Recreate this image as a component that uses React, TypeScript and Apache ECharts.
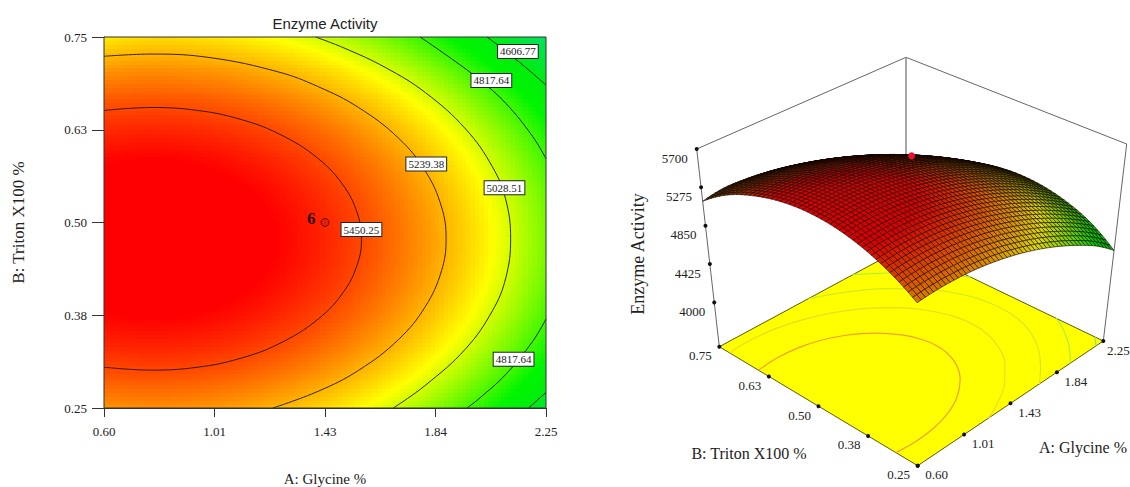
import React, { useEffect, useRef } from "react";
import * as echarts from "echarts";

const TITLE = "Enzyme Activity";
const X_NAME = "A: Glycine %";
const Y_NAME = "B: Triton X100 %";
const SERIF = "'Liberation Serif', 'Times New Roman', serif";
const SANS = "'Liberation Sans', Arial, sans-serif";

const xTicks = [0.6, 1.0125, 1.425, 1.8375, 2.25];
const xTickLabels = ["0.60", "1.01", "1.43", "1.84", "2.25"];
const yTicks = [0.25, 0.375, 0.5, 0.625, 0.75];
const yTickLabels = ["0.25", "0.38", "0.50", "0.63", "0.75"];
const zTicks = [5700, 5275, 4850, 4425, 4000];
const zTickLabels = ["5700", "5275", "4850", "4425", "4000"];

// Estimated response
const glycineLevels = [0.6, 0.765, 0.93, 1.095, 1.26, 1.425, 1.59, 1.755, 1.92, 2.085, 2.25];
const tritonLevels = [0.25, 0.3125, 0.375, 0.4375, 0.5, 0.5625, 0.625, 0.6875, 0.75];
const activity = [
  [5297, 5308, 5300, 5273, 5226, 5160, 5075, 4970, 4846, 4702, 4515],
  [5467, 5478, 5470, 5443, 5396, 5330, 5244, 5140, 5015, 4872, 4709],
  [5582, 5594, 5586, 5559, 5512, 5446, 5360, 5255, 5131, 4988, 4825],
  [5644, 5656, 5648, 5620, 5574, 5508, 5422, 5317, 5193, 5049, 4886],
  [5652, 5664, 5656, 5628, 5582, 5516, 5430, 5325, 5201, 5057, 4894],
  [5606, 5618, 5610, 5582, 5536, 5470, 5384, 5279, 5155, 5011, 4848],
  [5506, 5518, 5510, 5483, 5436, 5370, 5284, 5180, 5055, 4912, 4749],
  [5353, 5364, 5356, 5329, 5282, 5216, 5130, 5026, 4901, 4758, 4595],
  [5120, 5157, 5149, 5121, 5075, 5008, 4923, 4818, 4694, 4551, 4387],
];

// Contour lines, [glycine, triton]
const contour5450 = [[0.6, 0.651], [0.78, 0.655], [0.95, 0.651], [1.1, 0.64], [1.25, 0.62], [1.4, 0.586], [1.5, 0.5465], [1.55, 0.5075], [1.561, 0.478], [1.55, 0.4485], [1.5, 0.4095], [1.4, 0.37], [1.25, 0.336], [1.1, 0.316], [0.95, 0.305], [0.78, 0.301], [0.6, 0.305]];
const contour5239 = [[0.6, 0.724], [0.78, 0.727], [1, 0.722], [1.25, 0.703], [1.4, 0.683], [1.55, 0.655], [1.7, 0.6135], [1.8, 0.569], [1.86, 0.521], [1.877, 0.478], [1.86, 0.435], [1.8, 0.387], [1.7, 0.3425], [1.55, 0.3007], [1.4, 0.2726], [1.23, 0.25]];
const contour5028 = [[1.39, 0.75], [1.5, 0.7346], [1.65, 0.709], [1.8, 0.675], [1.95, 0.626], [2.05, 0.575], [2.1, 0.5305], [2.118, 0.478], [2.1, 0.4255], [2.05, 0.381], [1.95, 0.3298], [1.8, 0.2807], [1.68, 0.25]];
const contour4817Top = [[1.78, 0.75], [1.9, 0.72], [2, 0.693], [2.1, 0.6606], [2.2, 0.616], [2.25, 0.586]];
const contour4817Bottom = [[1.955, 0.25], [2, 0.2626], [2.1, 0.2954], [2.2, 0.3397], [2.25, 0.37]];
const contour4606Top = [[2.03, 0.75], [2.1, 0.7308], [2.2, 0.701], [2.25, 0.685]];
const contour4606Bottom = [[2.185, 0.25], [2.25, 0.271]];

const contourLabels = [
  { name: "4606.77", value: [2.145, 0.7306] },
  { name: "4817.64", value: [2.046, 0.6915] },
  { name: "5239.38", value: [1.803, 0.579] },
  { name: "5028.51", value: [2.095, 0.5467] },
  { name: "5450.25", value: [1.561, 0.4905] },
  { name: "4817.64", value: [2.129, 0.3156] },
];
const designPoint = [1.425, 0.5];
const designPointLabel = "6";
const designPointActivity = 5680;

// colour ramp
const rampLevels = [4387, 4620, 4720, 5090, 5590];
const rampColors = [[0, 225, 100], [0, 238, 10], [0, 245, 0], [255, 255, 0], [255, 0, 0]];

// 3-D box corners in the plane of the right panel: [left, right, back, front]
const topCorners = [[76.7, 109], [506.7, 104], [286, 17.3], [297, 226]];
const floorCorners = [[99.3, 306.7], [483.3, 301], [286, 206], [297.7, 425.7]];
const Z_FLOOR = 3509;
const Z_TOP = 5700;

const A_MIN = 0.6, A_MAX = 2.25, B_MIN = 0.25, B_MAX = 0.75;

function colorAt(z: number, shade = 1) {
  const n = rampLevels.length;
  let c = rampColors[0];
  if (z >= rampLevels[n - 1]) c = rampColors[n - 1];
  else if (z > rampLevels[0]) {
    for (let i = 0; i < n - 1; i++) {
      if (z <= rampLevels[i + 1]) {
        const t = (z - rampLevels[i]) / (rampLevels[i + 1] - rampLevels[i]);
        c = rampColors[i].map((v, k) => v + (rampColors[i + 1][k] - v) * t);
        break;
      }
    }
  }
  return `rgb(${Math.round(c[0] * shade)},${Math.round(c[1] * shade)},${Math.round(c[2] * shade)})`;
}

function interp1(a: number[], i: number, t: number) {
  const n = a.length;
  const g = (k: number) =>
    k < 0 ? 3 * a[0] - 3 * a[1] + a[2] : k >= n ? 3 * a[n - 1] - 3 * a[n - 2] + a[n - 3] : a[k];
  const p0 = g(i - 1), p1 = g(i), p2 = g(i + 1), p3 = g(i + 2);
  return 0.5 * (2 * p1 + (p2 - p0) * t + (2 * p0 - 5 * p1 + 4 * p2 - p3) * t * t + (3 * p1 - p0 - 3 * p2 + p3) * t * t * t);
}

function sample(i: number, u: number, j: number, v: number) {
  return interp1(activity.map((r) => interp1(r, i, u)), j, v);
}

function project(a: number, b: number, z: number) {
  const u = (a - A_MIN) / (A_MAX - A_MIN);
  const v = (b - B_MIN) / (B_MAX - B_MIN);
  const w = (z - Z_FLOOR) / (Z_TOP - Z_FLOOR);
  // bilinear over corners: (u=0,v=1)=left, (1,0)=right, (1,1)=back, (0,0)=front
  const bil = (c: number[][], k: number) =>
    c[3][k] * (1 - u) * (1 - v) + c[1][k] * u * (1 - v) + c[0][k] * (1 - u) * v + c[2][k] * u * v;
  return [
    bil(floorCorners, 0) + (bil(topCorners, 0) - bil(floorCorners, 0)) * w,
    bil(floorCorners, 1) + (bil(topCorners, 1) - bil(floorCorners, 1)) * w,
  ];
}

const SUB_FIELD_A = 10, SUB_FIELD_B = 12, SUB_MESH_A = 5, SUB_MESH_B = 6;

function fieldCell(params: any, api: any) {
  const [i, j] = fieldCells[params.dataIndex];
  const dA = glycineLevels[i + 1] - glycineLevels[i];
  const dB = tritonLevels[j + 1] - tritonLevels[j];
  const children: any[] = [];
  for (let p = 0; p < SUB_FIELD_A; p++) {
    for (let q = 0; q < SUB_FIELD_B; q++) {
      const a0 = glycineLevels[i] + (dA * p) / SUB_FIELD_A;
      const a1 = a0 + dA / SUB_FIELD_A;
      const b0 = tritonLevels[j] + (dB * q) / SUB_FIELD_B;
      const b1 = b0 + dB / SUB_FIELD_B;
      const c0 = api.coord([a0, b1]);
      const c1 = api.coord([a1, b0]);
      const x = Math.floor(c0[0]), y = Math.floor(c0[1]);
      children.push({
        type: "rect",
        shape: { x, y, width: Math.ceil(c1[0]) - x, height: Math.ceil(c1[1]) - y },
        style: { fill: colorAt(sample(i, (p + 0.5) / SUB_FIELD_A, j, (q + 0.5) / SUB_FIELD_B)) },
      });
    }
  }
  return { type: "group", children };
}

function meshCell(params: any, api: any) {
  const [i, j] = meshCells[params.dataIndex];
  const dA = glycineLevels[i + 1] - glycineLevels[i];
  const dB = tritonLevels[j + 1] - tritonLevels[j];
  const pt = (p: number, q: number) => {
    const u = p / SUB_MESH_A, v = q / SUB_MESH_B;
    return api.coord(project(glycineLevels[i] + dA * u, tritonLevels[j] + dB * v, sample(i, u, j, v)));
  };
  const children: any[] = [];
  for (let q = SUB_MESH_B - 1; q >= 0; q--) {
    for (let p = SUB_MESH_A - 1; p >= 0; p--) {
      const pts = [pt(p, q), pt(p + 1, q), pt(p + 1, q + 1), pt(p, q + 1)];
      let area = 0;
      for (let k = 0; k < 4; k++) {
        const a = pts[k], b = pts[(k + 1) % 4];
        area += a[0] * b[1] - b[0] * a[1];
      }
      area = Math.abs(area) / 2;
      const shade = Math.min(0.85, 0.15 + 0.8 * Math.pow(area / 18, 0.9));
      children.push({
        type: "polygon",
        shape: { points: pts },
        style: {
          fill: colorAt(sample(i, (p + 0.5) / SUB_MESH_A, j, (q + 0.5) / SUB_MESH_B), shade),
          stroke: "#140400",
          lineWidth: 0.6,
        },
      });
    }
  }
  return { type: "group", children };
}

const fieldCells: number[][] = [];
for (let j = 0; j < tritonLevels.length - 1; j++)
  for (let i = 0; i < glycineLevels.length - 1; i++) fieldCells.push([i, j]);
const meshCells: number[][] = [];
for (let j = tritonLevels.length - 2; j >= 0; j--)
  for (let i = glycineLevels.length - 2; i >= 0; i--) meshCells.push([i, j]);

const lineOn = (data: number[][], color: string, width: number, z: number, smooth: number | boolean, panel: number) => ({
  type: "line",
  data,
  xAxisIndex: panel,
  yAxisIndex: panel,
  smooth,
  showSymbol: false,
  symbol: "none",
  silent: true,
  z,
  clip: false,
  lineStyle: { color, width },
});

const floorLine = (c: number[][], color: string) =>
  lineOn(c.map((p) => project(p[0], p[1], Z_FLOOR)), color, 1.2, 4, 0.4, 1);

export default function App() {
  const ref = useRef<HTMLDivElement>(null);
  useEffect(() => {
    const chart = echarts.init(ref.current!, undefined, { renderer: "svg" });
    const tickDots = (items: { pos: number[]; label: string; offset?: number[] }[], offset: number[]) => ({
      type: "scatter",
      xAxisIndex: 1,
      yAxisIndex: 1,
      symbolSize: 4,
      silent: true,
      z: 8,
      itemStyle: { color: "#111", opacity: 1 },
      data: items.map((t) => ({
        name: t.label,
        value: t.pos,
        ...(t.offset ? { label: { offset: t.offset } } : {}),
      })),
      label: {
        show: true,
        position: "inside",
        offset,
        formatter: "{b}",
        color: "#222",
        fontFamily: SERIF,
        fontSize: 13,
      },
    });
    const frame = "#666";
    const option: any = {
      animation: false,
      backgroundColor: "#fff",
      title: {
        text: TITLE,
        left: 320,
        top: 11,
        textAlign: "center",
        textStyle: { fontFamily: SANS, fontSize: 15, fontWeight: "normal", color: "#222" },
      },
      grid: [
        { left: 104, top: 37, width: 442, height: 371, outerBoundsMode: "none" },
        { left: 620, top: 40, width: 510, height: 447, outerBoundsMode: "none" },
      ],
      xAxis: [
        {
          type: "value",
          min: A_MIN,
          max: A_MAX,
          name: X_NAME,
          nameLocation: "middle",
          nameGap: 63,
          nameTextStyle: { fontFamily: SERIF, fontSize: 15, color: "#222" },
          splitLine: { show: false },
          axisLine: { show: true, onZero: false, lineStyle: { color: "#333" } },
          axisTick: { show: true, length: 9, customValues: xTicks, lineStyle: { color: "#333" } },
          axisLabel: {
            customValues: xTicks,
            margin: 17,
            fontFamily: SERIF,
            fontSize: 13,
            color: "#222",
            formatter: (v: number) => xTickLabels[xTicks.indexOf(v)],
          },
        },
        { type: "value", gridIndex: 1, min: 0, max: 510, show: false },
      ],
      yAxis: [
        {
          type: "value",
          min: B_MIN,
          max: B_MAX,
          name: Y_NAME,
          nameLocation: "middle",
          nameGap: 77,
          nameTextStyle: { fontFamily: SERIF, fontSize: 17, color: "#222" },
          splitLine: { show: false },
          axisLine: { show: true, onZero: false, lineStyle: { color: "#333" } },
          axisTick: { show: true, length: 12, customValues: yTicks, lineStyle: { color: "#333" } },
          axisLabel: {
            customValues: yTicks,
            margin: 17,
            fontFamily: SERIF,
            fontSize: 13,
            color: "#222",
            formatter: (v: number) => yTickLabels[yTicks.indexOf(v)],
          },
        },
        { type: "value", gridIndex: 1, min: 0, max: 447, inverse: true, show: false },
      ],
      graphic: [
        {
          type: "text",
          x: 638,
          y: 254,
          rotation: Math.PI / 2,
          style: { text: TITLE, font: `18px ${SERIF}`, fill: "#222", textAlign: "center", textVerticalAlign: "middle" },
        },
        {
          type: "text",
          x: 749,
          y: 453,
          style: { text: Y_NAME, font: `16px ${SERIF}`, fill: "#222", textAlign: "center", textVerticalAlign: "middle" },
        },
        {
          type: "text",
          x: 1083,
          y: 447,
          style: { text: X_NAME, font: `16px ${SERIF}`, fill: "#222", textAlign: "center", textVerticalAlign: "middle" },
        },
      ],
      series: [
        {
          type: "custom",
          xAxisIndex: 0,
          yAxisIndex: 0,
          silent: true,
          z: 1,
          renderItem: fieldCell,
          data: fieldCells.map(([i, j]) => [glycineLevels[i], tritonLevels[j], activity[j][i]]),
        },
        lineOn(contour5450, "#3a1800", 1, 3, 0.4, 0),
        lineOn(contour5239, "#3a2400", 1, 3, 0.4, 0),
        lineOn(contour5028, "#2a2c00", 1, 3, 0.4, 0),
        lineOn(contour4817Top, "#103000", 1, 3, 0.4, 0),
        lineOn(contour4817Bottom, "#103000", 1, 3, 0.4, 0),
        lineOn(contour4606Top, "#103000", 1, 3, 0.4, 0),
        lineOn(contour4606Bottom, "#103000", 1, 3, 0.4, 0),
        lineOn(
          [[A_MIN, B_MIN], [A_MAX, B_MIN], [A_MAX, B_MAX], [A_MIN, B_MAX], [A_MIN, B_MIN]],
          "#333", 1, 4, false, 0,
        ),
        {
          type: "scatter",
          silent: true,
          z: 6,
          symbolSize: 0,
          itemStyle: { opacity: 1 },
          data: contourLabels,
          label: {
            show: true,
            position: "inside",
            formatter: "{b}",
            fontFamily: SERIF,
            fontSize: 11,
            color: "#222",
            backgroundColor: "#fff",
            borderColor: "#222",
            borderWidth: 1,
            padding: [1, 2],
            opacity: 1,
          },
        },
        {
          type: "scatter",
          silent: true,
          z: 6,
          symbolSize: 8,
          itemStyle: { color: "#e0200a", borderColor: "#6a1000", borderWidth: 1, opacity: 1 },
          data: [{ name: designPointLabel, value: designPoint }],
          label: {
            show: true,
            position: "left",
            offset: [0, -4],
            formatter: "{b}",
            fontFamily: SERIF,
            fontSize: 17,
            fontWeight: "bold",
            color: "#2a0a00",
          },
        },
        // right panel: rear frame
        lineOn([topCorners[0], topCorners[2], topCorners[1]], frame, 1, 1, false, 1),
        lineOn([topCorners[2], floorCorners[2]], "#888", 1.5, 1, false, 1),
        lineOn([topCorners[0], floorCorners[0]], frame, 1, 1, false, 1),
        lineOn([topCorners[1], floorCorners[1]], frame, 1, 1, false, 1),
        {
          type: "custom",
          xAxisIndex: 1,
          yAxisIndex: 1,
          silent: true,
          z: 2,
          renderItem: (_: any, api: any) => ({
            type: "polygon",
            shape: {
              points: [
                project(A_MIN, B_MAX, Z_FLOOR),
                project(A_MAX, B_MAX, Z_FLOOR),
                project(A_MAX, B_MIN, Z_FLOOR),
                project(A_MIN, B_MIN, Z_FLOOR),
              ].map((p) => api.coord(p)),
            },
            style: { fill: "#ffff00", stroke: "#5a5a10", lineWidth: 1 },
          }),
          data: [[0, 0]],
        },
        floorLine(contour5450, "#f0a030"),
        floorLine(contour5239, "#ecdc20"),
        floorLine(contour5028, "#d8e820"),
        floorLine(contour4817Top, "#b0ec40"),
        floorLine(contour4817Bottom, "#b0ec40"),
        floorLine(contour4606Top, "#80e470"),
        floorLine(contour4606Bottom, "#80e470"),
        {
          type: "custom",
          xAxisIndex: 1,
          yAxisIndex: 1,
          silent: true,
          z: 5,
          renderItem: meshCell,
          data: meshCells.map(([i, j]) => [glycineLevels[i], tritonLevels[j], activity[j][i]]),
        },
        {
          type: "scatter",
          xAxisIndex: 1,
          yAxisIndex: 1,
          silent: true,
          z: 7,
          symbolSize: 7,
          itemStyle: { color: "#e8102a", opacity: 1 },
          data: [project(designPoint[0], designPoint[1], designPointActivity)],
        },
        tickDots(yTicks.map((b, k) => ({ pos: project(A_MIN, b, Z_FLOOR), label: yTickLabels[k] })), [-19, 9]),
        tickDots(
          xTicks.map((a, k) => ({
            pos: project(a, B_MIN, Z_FLOOR),
            label: xTickLabels[k],
            offset: k === xTicks.length - 1 ? [15, 9] : undefined,
          })),
          [19, 9],
        ),
        tickDots(zTicks.map((z, k) => ({ pos: project(A_MIN, B_MAX, z), label: zTickLabels[k] })), [-22, 9]),
      ],
    };
    chart.setOption(option);
    return () => chart.dispose();
  }, []);
  return <div ref={ref} style={{ position: "fixed", left: 0, top: 0, width: 1130, height: 487 }} />;
}
